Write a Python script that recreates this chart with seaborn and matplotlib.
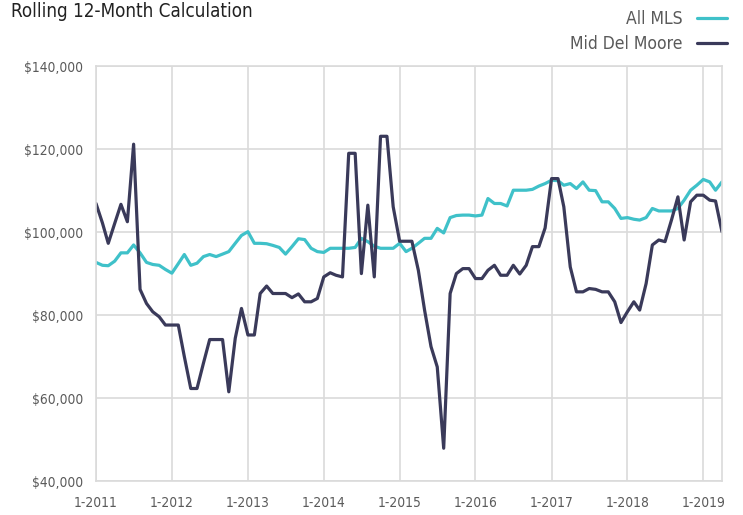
import matplotlib

matplotlib.use("Agg")
import matplotlib.pyplot as plt
import pandas as pd
import seaborn as sns
from matplotlib import font_manager
from matplotlib.ticker import FuncFormatter

# Monthly points, rolling 12-month average price (thousands of dollars)
months = pd.date_range("2011-01-01", "2019-04-01", freq="MS")

all_mls = [
    92.7, 92.0, 91.9, 93.0, 95.0, 95.0, 96.9, 95.0, 92.7, 92.2,
    92.0, 91.0, 90.1, 92.4, 94.6, 92.0, 92.5, 94.1, 94.6, 94.1,
    94.7, 95.3, 97.3, 99.2, 100.1, 97.3, 97.3, 97.2, 96.8, 96.3,
    94.7, 96.5, 98.4, 98.2, 96.1, 95.3, 95.1, 96.1, 96.1, 96.1,
    96.1, 96.3, 98.5, 97.7, 96.6, 96.1, 96.1, 96.1, 97.3, 95.3,
    96.1, 97.3, 98.5, 98.5, 100.9, 99.8, 103.5, 104.0, 104.1, 104.1,
    103.9, 104.1, 108.1, 106.9, 106.9, 106.3, 110.1, 110.1, 110.1, 110.3,
    111.1, 111.7, 112.5, 112.4, 111.3, 111.7, 110.5, 112.1, 110.1, 110.0,
    107.3, 107.3, 105.7, 103.3, 103.5, 103.1, 102.9, 103.5, 105.7, 105.1,
    105.1, 105.1, 105.7, 107.7, 110.1, 111.3, 112.7, 112.1, 110.1, 112.1,
]

mid_del_moore = [
    106.9, 102.2, 97.3, 102.1, 106.7, 102.5, 121.2, 86.2, 82.8, 80.8,
    79.6, 77.6, 77.6, 77.6, 70.0, 62.3, 62.3, 68.4, 74.1, 74.1,
    74.1, 61.5, 74.4, 81.6, 75.2, 75.2, 85.2, 87.0, 85.2, 85.2,
    85.2, 84.2, 85.1, 83.2, 83.2, 84.0, 89.2, 90.2, 89.6, 89.2,
    119.0, 119.0, 90.0, 106.5, 89.2, 123.1, 123.1, 106.1, 97.8, 97.8,
    97.8, 90.8, 81.2, 72.4, 67.5, 47.9, 85.2, 90.0, 91.2, 91.2,
    88.8, 88.8, 90.8, 92.0, 89.6, 89.6, 92.0, 89.9, 92.0, 96.5,
    96.5, 101.0, 112.9, 112.9, 106.1, 91.6, 85.6, 85.6, 86.4, 86.2,
    85.6, 85.6, 83.2, 78.2, 80.8, 83.2, 81.2, 87.6, 96.9, 98.1,
    97.7, 102.9, 108.5, 98.1, 107.3, 108.9, 108.9, 107.7, 107.5, 100.1,
]

series_names = ["All MLS", "Mid Del Moore"]
x_tick_dates = pd.date_range("2011-01-01", "2019-01-01", freq="YS")
x_tick_labels = ["1-2011", "1-2012", "1-2013", "1-2014", "1-2015",
                 "1-2016", "1-2017", "1-2018", "1-2019"]
y_ticks = [40000, 60000, 80000, 100000, 120000, 140000]

# Long format for seaborn
df_mls = pd.DataFrame({"date": months, "price": [v * 1000 for v in all_mls]})
df_mdm = pd.DataFrame({"date": months, "price": [v * 1000 for v in mid_del_moore]})
df_mls["area"] = series_names[0]
df_mdm["area"] = series_names[1]
df = pd.concat([df_mls, df_mdm], axis=0, ignore_index=True)

sns.set_style("white")

# The original uses a condensed sans; take the narrowest one that is installed.
installed = {(f.name, f.stretch) for f in font_manager.fontManager.ttflist}
names = {n for n, s in installed}
if "Liberation Sans Narrow" in names:
    plt.rcParams["font.family"] = ["Liberation Sans Narrow", "DejaVu Sans"]
    scale = 1.0
elif ("DejaVu Sans", "condensed") in installed or ("DejaVu Sans", "semi-condensed") in installed:
    plt.rcParams["font.family"] = ["DejaVu Sans"]
    plt.rcParams["font.stretch"] = "condensed"
    scale = 0.9
else:
    plt.rcParams["font.family"] = ["Liberation Sans", "DejaVu Sans"]
    scale = 0.88

colours = ["#3fc1c9", "#3a3a5a"]
grid_colour = "#dadada"
text_colour = "#5a5a5a"

fig = plt.figure(figsize=(7.43, 5.15), dpi=100)
ax = fig.add_axes([0.1292, 0.066, 0.8425, 0.8055])

graph = sns.lineplot(
    data=df,
    x="date",
    y="price",
    hue="area",
    palette=colours,
    linewidth=2.3,
    ax=ax,
)

ax.set_xlim(months[0], months[-1])
ax.set_ylim(40000, 140000)
ax.set_xticks(x_tick_dates)
ax.set_xticklabels(x_tick_labels)
ax.set_yticks(y_ticks)
ax.yaxis.set_major_formatter(FuncFormatter(lambda v, p: "${:,.0f}".format(v)))
ax.set_xlabel("")
ax.set_ylabel("")

ax.grid(True, color=grid_colour, linewidth=1.2)
ax.set_axisbelow(True)
for side in ["top", "right", "left", "bottom"]:
    ax.spines[side].set_color(grid_colour)
    ax.spines[side].set_linewidth(1.2)
ax.tick_params(axis="both", colors=grid_colour, labelcolor=text_colour,
               labelsize=11 * scale, length=5, width=1.2)
ax.tick_params(axis="x", pad=6)
ax.tick_params(axis="y", pad=4)

# Legend at the top right, labels left of the line handles
handles, labels = ax.get_legend_handles_labels()
ax.legend(
    handles,
    labels,
    loc="upper right",
    bbox_to_anchor=(0.992, 1.0),
    bbox_transform=fig.transFigure,
    frameon=False,
    markerfirst=False,
    handlelength=1.7,
    fontsize=14 * scale,
    labelcolor=text_colour,
    labelspacing=0.35,
    borderaxespad=0.2,
)

fig.text(0.015, 0.997, "Rolling 12-Month Calculation", fontsize=15 * scale,
         color="#222222", va="top", ha="left")

fig.savefig("out.png", dpi=100)
